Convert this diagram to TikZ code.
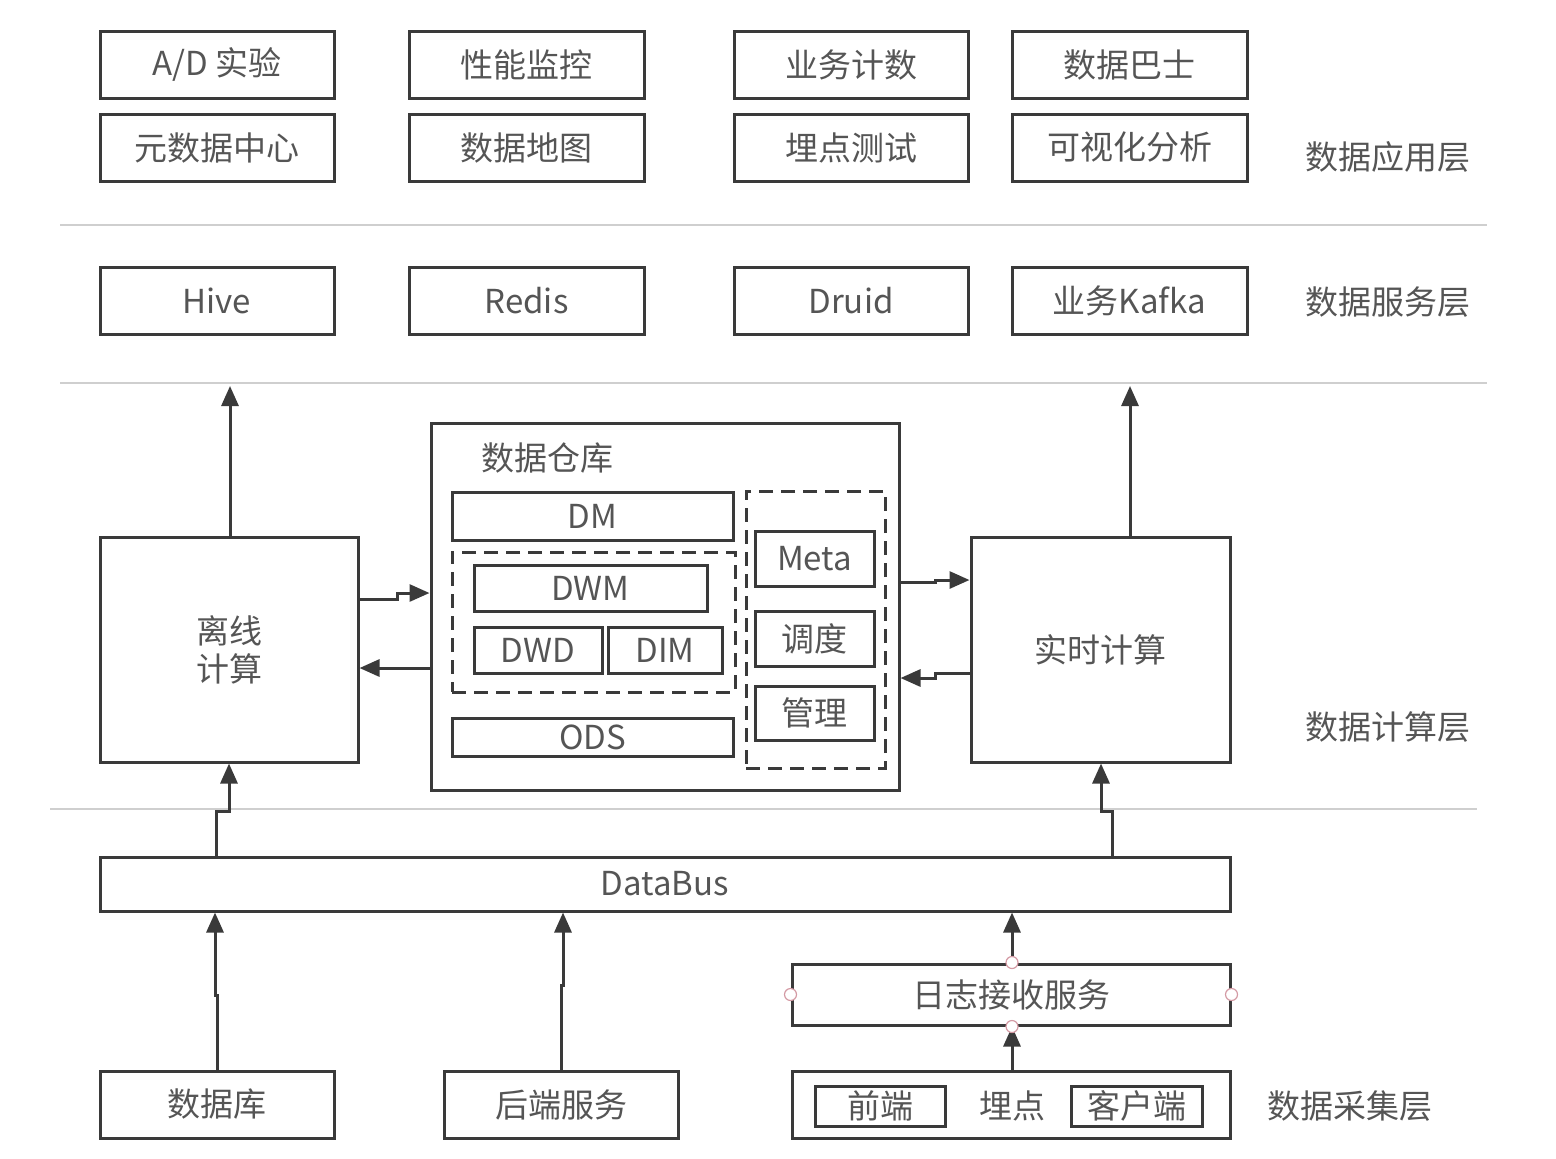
\documentclass[tikz,border=0pt]{standalone}
\usepackage{fontspec}
\setmainfont{Noto Sans CJK SC}
\usetikzlibrary{arrows.meta}
\definecolor{ln}{HTML}{3A3A3A}
\definecolor{tx}{HTML}{555555}
\definecolor{sepc}{HTML}{CFCFCF}
\definecolor{hdl}{HTML}{D49AA4}
\newcommand{\bx}[7][box]{\node[#1,minimum width={(#5-#3)*0.5pt},minimum height={(#6-#4)*0.5pt}] (#2) at ({(#3+#5)/2},{(#4+#6)/2}) {#7};}
\begin{document}
\begin{tikzpicture}[x=0.5pt,y=-0.5pt,
  box/.style={draw=ln,line width=1.5pt,inner sep=0pt,align=center,text=tx,font=\fontsize{16.5}{19}\selectfont},
  dbox/.style={draw=ln,line width=1.5pt,inner sep=0pt,dash pattern=on 7pt off 4pt},
  lab/.style={text=tx,font=\fontsize{16.5}{19}\selectfont,inner sep=0pt},
  arr/.style={draw=ln,line width=1.5pt,-{Triangle[length=10pt,width=8.5pt]}},
  sepl/.style={draw=sepc,line width=1pt},
  handle/.style={circle,draw=hdl,fill=white,line width=0.6pt,minimum size=6pt,inner sep=0pt}]
\useasboundingbox (0,0) rectangle (1556,1158);
% application layer
\bx{ad}{100}{31}{334}{98}{A/D 实验}
\bx{xn}{409}{31}{644}{98}{性能监控}
\bx{yw}{734}{31}{968}{98}{业务计数}
\bx{bs}{1012}{31}{1247}{98}{数据巴士}
\bx{ysj}{100}{114}{334}{181}{元数据中心}
\bx{dt}{409}{114}{644}{181}{数据地图}
\bx{md}{734}{114}{968}{181}{埋点测试}
\bx{ks}{1012}{114}{1247}{181}{可视化分析}
\node[lab] (l1) at (1388,157) {数据应用层};
\draw[sepl] (60,225) -- (1487,225);
% service layer
\bx{hive}{100}{267}{334}{334}{Hive}
\bx{redis}{409}{267}{644}{334}{Redis}
\bx{druid}{734}{267}{968}{334}{Druid}
\bx{kafka}{1012}{267}{1247}{334}{业务Kafka}
\node[lab] (l2) at (1388,302) {数据服务层};
\draw[sepl] (60,383) -- (1487,383);
% compute layer
\bx{lixian}{100}{537}{358}{762}{离线\\计算}
\bx{shishi}{971}{537}{1230}{762}{实时计算}
\bx{cangku}{431}{423}{899}{790}{}
\node[lab,anchor=west] (ckt) at (481,458) {数据仓库};
\bx{dm}{452}{492}{733}{540}{DM}
\bx[dbox]{dw}{452}{552}{735}{692}{}
\bx{dwm}{474}{565}{707}{611}{DWM}
\bx{dwd}{474}{627}{602}{673}{DWD}
\bx{dim}{608}{627}{722}{673}{DIM}
\bx{ods}{452}{718}{733}{756}{ODS}
\bx[dbox]{mg}{746}{491}{885}{768}{}
\bx{meta}{755}{531}{874}{586}{Meta}
\bx{dd}{755}{611}{874}{666}{调度}
\bx{gl}{755}{686}{874}{740}{管理}
\node[lab] (l3) at (1388,727) {数据计算层};
\draw[sepl] (50,809) -- (1477,809);
\coordinate (up1) at (230,386);
\coordinate (up2) at (1130,386);
\draw[arr] (lixian.north -| up1) -- (up1);
\draw[arr] (shishi.north -| up2) -- (up2);
\draw[arr] (lixian.east |- 0,599) -| (397,593) -- (cangku.west |- 0,593);
\draw[arr] (cangku.west |- 0,668) -- (lixian.east |- 0,668);
\draw[arr] (cangku.east |- 0,582) -| (935,580) -- (shishi.west |- 0,580);
\draw[arr] (shishi.west |- 0,673) -| (935,678) -- (cangku.east |- 0,678);
% databus
\bx{databus}{100}{857}{1230}{911}{DataBus}
\draw[arr] (databus.north -| 216,0) |- (229,811) -- (lixian.south -| 229,0);
\draw[arr] (databus.north -| 1112,0) |- (1101,811) -- (shishi.south -| 1101,0);
% collection layer
\bx{db}{100}{1071}{334}{1138}{数据库}
\bx{hd}{444}{1071}{678}{1138}{后端服务}
\bx{mdbox}{792}{1071}{1230}{1138}{}
\bx{qd}{815}{1086}{945}{1126}{前端}
\bx{kh}{1071}{1086}{1202}{1126}{客户端}
\node[lab] (mdt) at (1012,1106) {埋点};
\bx{rz}{792}{964}{1230}{1025}{日志接收服务}
\node[lab] (l4) at (1350,1106) {数据采集层};
\draw[arr] (db.north -| 217,0) |- (215,995) -- (databus.south -| 215,0);
\draw[arr] (hd.north -| 561,0) |- (563,985) -- (databus.south -| 563,0);
\draw[arr] (rz.north -| 1012,0) -- (databus.south -| 1012,0);
\draw[arr] (mdbox.north -| 1012,0) -- (rz.south -| 1012,0);
\node[handle] (h1) at (rz.north -| 1012,0) {};
\node[handle] (h2) at (rz.south -| 1012,0) {};
\node[handle] (h3) at (rz.west) {};
\node[handle] (h4) at (rz.east) {};
\end{tikzpicture}
\end{document}
